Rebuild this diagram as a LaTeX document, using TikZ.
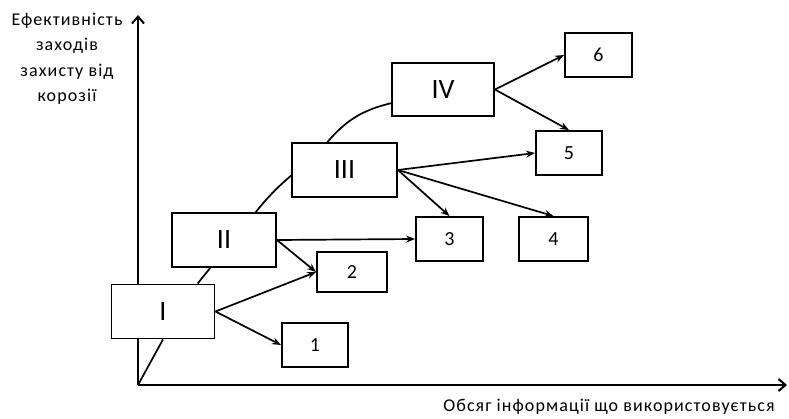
\documentclass[tikz,border=0pt]{standalone}
\usepackage{fontspec}
\setmainfont{Carlito}
\newfontfamily\lblfont{Carlito}[LetterSpace=6]
\usetikzlibrary{arrows.meta,calc}
\begin{document}
\begin{tikzpicture}[x=1pt,y=-1pt,
  box/.style={draw,line width=1.9pt,rectangle,inner sep=0pt,fill=white},
  rom/.style={box,minimum width=103pt,minimum height=54pt,font=\fontsize{28}{28}\selectfont},
  num/.style={box,minimum width=67pt,minimum height=44pt,font=\fontsize{20}{20}\selectfont},
  conn/.style={line width=1.7pt,-{Stealth[length=9pt,width=7pt]}},
  curve/.style={line width=1.7pt},
  axis/.style={line width=2pt,-{Straight Barb[length=7pt,width=12pt]}},
  lbl/.style={font=\lblfont\fontsize{18}{25.5}\selectfont,align=center}]
\useasboundingbox (0,0) rectangle (789,418);
\coordinate (O) at (138,385);
\coordinate (Ytop) at (138,15);
\coordinate (Xend) at (787,385);
\draw[axis] (O) -- (Ytop);
\draw[axis] (O) -- (Xend);
\node[lbl] (ylab) at (67,59) {Ефективність\\заходів\\захисту від\\корозії};
\node[lbl] (xlab) at (609,407) {Обсяг інформації що використовується};

\node[rom] (I) at (163,311.5) {I};
\node[rom,minimum width=104pt] (II) at (224,240) {II};
\node[rom,minimum width=105pt] (III) at (344.5,170) {III};
\node[rom,minimum width=102pt,minimum height=53pt] (IV) at (443,89.5) {IV};
\node[num,minimum width=66pt] (n1) at (315,345) {1};
\node[num,minimum width=70pt,minimum height=40pt] (n2) at (352,272) {2};
\node[num] (n3) at (449.5,239) {3};
\node[num,minimum width=69pt] (n4) at (553.5,239) {4};
\node[num,minimum width=66pt] (n5) at (569,153) {5};
\node[num] (n6) at (598.5,55) {6};

% growth curve
\draw[curve] (O) -- (I.south);
\draw[curve] ($(I.north west)!0.83!(I.north east)$) -- ($(II.south west)!0.37!(II.south east)$);
\draw[curve] ($(II.north west)!0.8!(II.north east)$) to[bend left=5] ($(III.north west)!0.6!(III.south west)$);
\draw[curve] ($(III.north west)!0.34!(III.north east)$) to[bend left=18] ($(IV.north west)!0.75!(IV.south west)$);

% arrows
\draw[conn] (I.east) -- (n2.west);
\draw[conn] (I.east) -- (n1.west);
\draw[conn] (II.east) -- (n3.west);
\draw[conn] (II.east) -- (n2.west);
\draw[conn] (III.east) -- (n3.north);
\draw[conn] (III.east) -- (n4.north);
\draw[conn] (III.east) -- (n5.west);
\draw[conn] (IV.east) -- (n6.west);
\draw[conn] (IV.east) -- (n5.north);
\end{tikzpicture}
\end{document}
